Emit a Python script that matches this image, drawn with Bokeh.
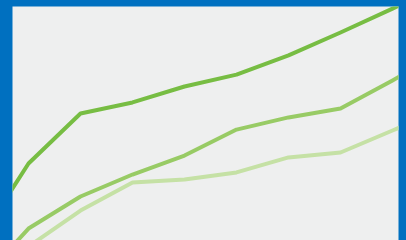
from bokeh.plotting import figure
from bokeh.models import Range1d, GlobalInlineStyleSheet
from bokeh.embed import file_html
from bokeh.resources import INLINE

# Data (index positions; values on a 0-100 scale)
periods = [0, 1, 2, 3, 4, 5, 6, 7, 8, 9]
series_dark = [-1.7, 32.9, 54.3, 59.0, 65.8, 70.9, 79.1, 88.9, 99.1, 109.4]
series_mid = [-19.2, 5.1, 18.8, 28.2, 36.3, 47.4, 52.6, 56.4, 68.4, 80.8]
series_light = [-17.9, -2.6, 12.8, 24.8, 26.1, 29.1, 35.5, 37.6, 47.0, 56.4]

BLUE = "#0070C0"
BG = "#EEEFEF"

p = figure(
    width=406, height=240,
    x_range=Range1d(0.692, 8.115), y_range=Range1d(0, 100),
    output_backend="svg", toolbar_location=None,
    x_axis_location=None, y_axis_location=None,
    min_border_left=12, min_border_right=8, min_border_top=6, min_border_bottom=0,
    border_fill_color=BLUE, background_fill_color=BG,
    outline_line_color=None,
)
p.xgrid.visible = False
p.ygrid.visible = False

p.line(periods, series_light, line_color="#C5E1A5", line_width=4, line_join="round")
p.line(periods, series_mid, line_color="#98CB65", line_width=4, line_join="round")
p.line(periods, series_dark, line_color="#77BD43", line_width=4, line_join="round")

p.stylesheets = [GlobalInlineStyleSheet(css="html,body{margin:0;padding:0;background:%s;overflow:hidden}" % BLUE)]

open("out.html", "w").write(file_html(p, INLINE))
